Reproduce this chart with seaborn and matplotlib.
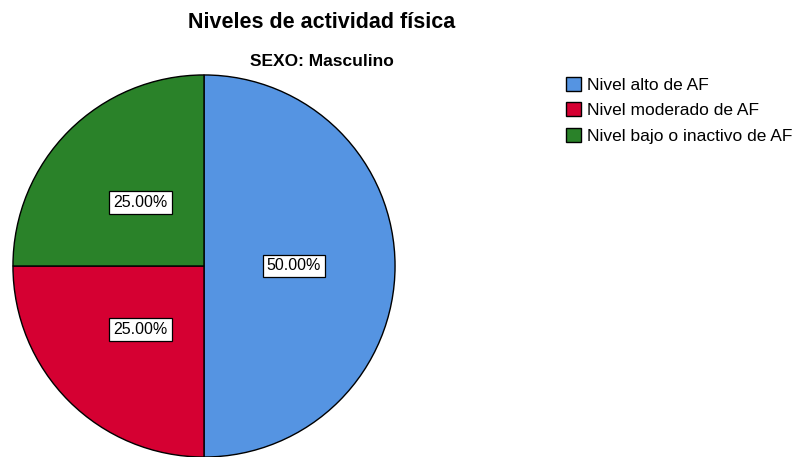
import matplotlib
matplotlib.use("Agg")
import matplotlib.pyplot as plt
import seaborn as sns

# data
categorias = ["Nivel alto de AF", "Nivel moderado de AF", "Nivel bajo o inactivo de AF"]
porcentajes = [50.0, 25.0, 25.0]
colores = ["#5594E2", "#D50032", "#2A8229"]

sns.set_theme(style="white")
plt.rcParams["font.family"] = ["Liberation Sans", "DejaVu Sans"]
plt.rcParams["text.color"] = "black"

fig = plt.figure(figsize=(8.03, 4.57), dpi=100)
ax = fig.add_axes([12 / 803, -1 / 457, 384 / 803, 384 / 457])

wedges, texts, autotexts = ax.pie(
    porcentajes, colors=colores, startangle=90, counterclock=False,
    autopct="%.2f%%", pctdistance=0.47, radius=1,
    wedgeprops=dict(edgecolor="black", linewidth=1),
    textprops=dict(fontsize=11.5, color="black"),
)
for t in autotexts:
    t.set_bbox(dict(facecolor="white", edgecolor="black", linewidth=0.9,
                    boxstyle="square,pad=0.25"))

ax.set_xlim(-1.005, 1.005)
ax.set_ylim(-1.005, 1.005)
ax.set_aspect("equal")

fig.text(322 / 803, 1 - 23 / 457, "Niveles de actividad física", ha="center", va="center",
         fontsize=15.5, fontweight="bold", color="black")
fig.text(322 / 803, 1 - 61 / 457, "SEXO: Masculino", ha="center", va="center",
         fontsize=12.5, fontweight="bold", color="black")

leg = fig.legend(wedges, categorias, loc="upper left", bbox_to_anchor=(566 / 803, 1 - 77 / 457),
                 frameon=False, fontsize=12.5, handlelength=0.85, handleheight=0.85,
                 handletextpad=0.35, labelspacing=0.55, borderaxespad=0, borderpad=0)
for t in leg.get_texts():
    t.set_color("black")

fig.savefig("out.png", dpi=100)
